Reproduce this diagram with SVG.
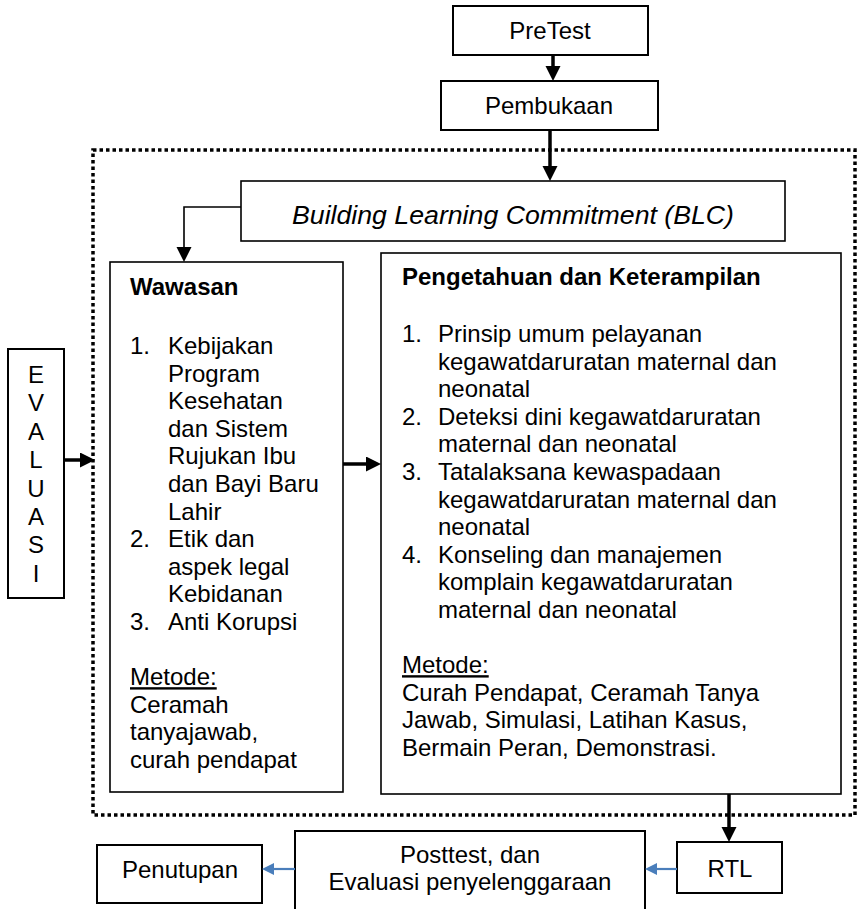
<svg xmlns="http://www.w3.org/2000/svg" width="859" height="909" viewBox="0 0 859 909">
<style>
text{font-family:"Liberation Sans",Arial,sans-serif;font-size:24px;fill:#000}
.c{text-anchor:middle}
.b{font-weight:bold}
.u{text-decoration:underline}
.it{font-style:italic;font-size:26.7px}
.box{fill:#fff;stroke:#000;stroke-width:2}
.thin{fill:#fff;stroke:#000;stroke-width:1.6}
.k{stroke:#000;fill:none;stroke-width:3.5}
.k1{stroke:#000;fill:none;stroke-width:1.6}
.bl{stroke:#4a7ebb;fill:none;stroke-width:2.2}
</style>
<defs>
<marker id="ah" markerUnits="userSpaceOnUse" markerWidth="16" markerHeight="16" refX="0" refY="7.5" orient="auto"><path d="M0,0 L15,7.5 L0,15 z" fill="#000"/></marker>
<marker id="ahb" markerUnits="userSpaceOnUse" markerWidth="14" markerHeight="14" refX="0" refY="6" orient="auto"><path d="M0,0 L12,6 L0,12 z" fill="#4a7ebb"/></marker>
</defs>
<rect x="0" y="0" width="859" height="909" fill="#fff"/>
<g id="frame">
<rect x="93" y="150" width="762" height="665" fill="none" stroke="#000" stroke-width="3.5" stroke-dasharray="3.5 3"/>
</g>
<g id="pretest"><rect class="box" x="453" y="6" width="195" height="49"/><text class="c" x="550" y="39">PreTest</text></g>
<g id="pembukaan"><rect class="box" x="441" y="81" width="217" height="49"/><text class="c" x="549" y="114">Pembukaan</text></g>
<g id="blc"><rect class="thin" x="241" y="181" width="544" height="60"/><text class="c it" x="513" y="224">Building Learning Commitment (BLC)</text></g>
<g id="evaluasi"><rect class="box" x="8" y="349" width="56" height="249"/>
<text class="c" x="36" y="383">E</text><text class="c" x="36" y="411.4">V</text><text class="c" x="36" y="439.8">A</text><text class="c" x="36" y="468.2">L</text><text class="c" x="36" y="496.6">U</text><text class="c" x="36" y="525">A</text><text class="c" x="36" y="553.4">S</text><text class="c" x="36" y="581.8">I</text>
</g>
<g id="wawasan"><rect class="thin" x="110" y="262" width="233" height="530"/>
<text class="b" x="130" y="295">Wawasan</text>
<text x="130" y="354">1.</text><text x="168" y="354">Kebijakan</text>
<text x="168" y="381.6">Program</text>
<text x="168" y="409.2">Kesehatan</text>
<text x="168" y="436.8">dan Sistem</text>
<text x="168" y="464.4">Rujukan Ibu</text>
<text x="168" y="492">dan Bayi Baru</text>
<text x="168" y="519.6">Lahir</text>
<text x="130" y="547.2">2.</text><text x="168" y="547.2">Etik dan</text>
<text x="168" y="574.8">aspek legal</text>
<text x="168" y="602.4">Kebidanan</text>
<text x="130" y="630">3.</text><text x="168" y="630">Anti Korupsi</text>
<text class="u" x="130" y="685.2">Metode:</text>
<text x="130" y="712.8">Ceramah</text>
<text x="130" y="740.4">tanyajawab,</text>
<text x="130" y="768">curah pendapat</text>
</g>
<g id="pengetahuan"><rect class="thin" x="381" y="253" width="460" height="541"/>
<text class="b" x="402" y="285">Pengetahuan dan Keterampilan</text>
<text x="402" y="342">1.</text><text x="438" y="342">Prinsip umum pelayanan</text>
<text x="438" y="369.6">kegawatdaruratan maternal dan</text>
<text x="438" y="397.2">neonatal</text>
<text x="402" y="424.8">2.</text><text x="438" y="424.8">Deteksi dini kegawatdaruratan</text>
<text x="438" y="452.4">maternal dan neonatal</text>
<text x="402" y="480">3.</text><text x="438" y="480">Tatalaksana kewaspadaan</text>
<text x="438" y="507.6">kegawatdaruratan maternal dan</text>
<text x="438" y="535.2">neonatal</text>
<text x="402" y="562.8">4.</text><text x="438" y="562.8">Konseling dan manajemen</text>
<text x="438" y="590.4">komplain kegawatdaruratan</text>
<text x="438" y="618">maternal dan neonatal</text>
<text class="u" x="402" y="673.2">Metode:</text>
<text x="402" y="700.8">Curah Pendapat, Ceramah Tanya</text>
<text x="402" y="728.4">Jawab, Simulasi, Latihan Kasus,</text>
<text x="402" y="756">Bermain Peran, Demonstrasi.</text>
</g>
<g id="rtl"><rect class="box" x="677" y="842" width="105" height="51"/><text class="c" x="730" y="877">RTL</text></g>
<g id="posttest"><rect class="box" x="295" y="831" width="350" height="82"/><text class="c" x="470" y="863">Posttest, dan</text><text class="c" x="470" y="890">Evaluasi penyelenggaraan</text></g>
<g id="penutupan"><rect class="box" x="97" y="845" width="165" height="58"/><text class="c" x="180" y="878">Penutupan</text></g>
<g id="connectors">
<line class="k" x1="553" y1="55" x2="553" y2="66" marker-end="url(#ah)"/>
<line class="k" x1="550" y1="130" x2="550" y2="166" marker-end="url(#ah)"/>
<polyline class="k1" points="241,207 184,207 184,247" marker-end="url(#ah)"/>
<line class="k" x1="343" y1="464" x2="366" y2="464" marker-end="url(#ah)"/>
<line class="k" x1="64" y1="460" x2="80" y2="460" marker-end="url(#ah)"/>
<line class="k" x1="729" y1="794" x2="729" y2="827" marker-end="url(#ah)"/>
<line class="bl" x1="677" y1="869" x2="657" y2="869" marker-end="url(#ahb)"/>
<line class="bl" x1="295" y1="869" x2="274" y2="869" marker-end="url(#ahb)"/>
</g>
</svg>
